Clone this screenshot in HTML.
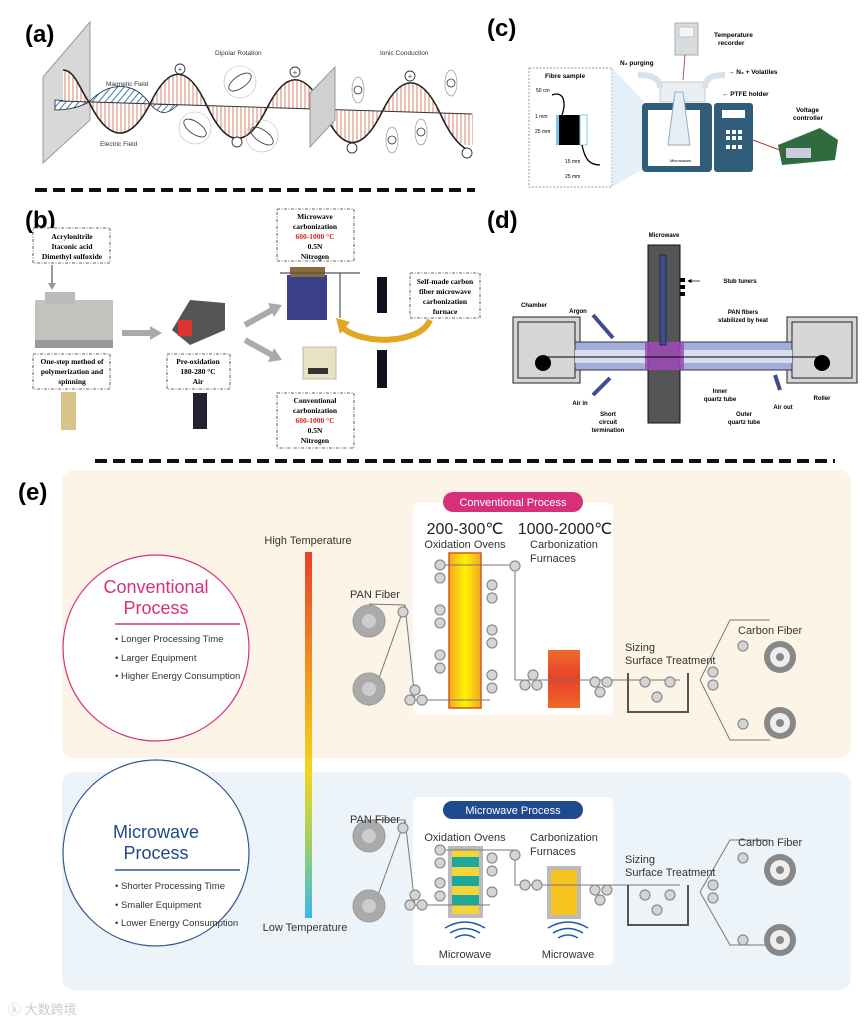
<!DOCTYPE html>
<html><head><meta charset="utf-8"><style>
html,body{margin:0;padding:0;background:#fff}
svg{display:block}
text{font-family:"Liberation Sans",sans-serif}
.s{font-family:"Liberation Serif",serif;font-weight:bold;font-size:7.5px;text-anchor:middle}
.lab{font-size:24px;font-weight:bold}
.ts{font-size:6.5px;font-weight:bold}
.e{font-size:11px;fill:#333}
.r{fill:#d4d4d4;stroke:#8c8c8c;stroke-width:1.2}
</style></head><body>
<svg width="865" height="1021" viewBox="0 0 865 1021" xmlns="http://www.w3.org/2000/svg">
<defs>
<clipPath id="ca"><rect x="0" y="0" width="473" height="188"/></clipPath>
<pattern id="hat" width="4" height="10" patternUnits="userSpaceOnUse"><rect width="4" height="10" fill="#fff"/><line x1="1" y1="0" x2="1" y2="10" stroke="#d06040" stroke-width="0.8"/></pattern>
<pattern id="bh" width="5" height="5" patternUnits="userSpaceOnUse" patternTransform="rotate(40)"><rect width="5" height="5" fill="#fff"/><line x1="1" y1="0" x2="1" y2="5" stroke="#3a7ab8" stroke-width="1"/></pattern>
<linearGradient id="tg" x1="0" y1="0" x2="0" y2="1"><stop offset="0" stop-color="#e8402a"/><stop offset="0.35" stop-color="#f39a1e"/><stop offset="0.6" stop-color="#f5d41e"/><stop offset="0.8" stop-color="#9ccf6a"/><stop offset="1" stop-color="#3ab8e8"/></linearGradient>
<linearGradient id="ov" x1="0" y1="0" x2="1" y2="0"><stop offset="0" stop-color="#f5a623"/><stop offset="0.5" stop-color="#fff200"/><stop offset="1" stop-color="#f5a623"/></linearGradient>
<linearGradient id="cf" x1="0" y1="0" x2="0" y2="1"><stop offset="0" stop-color="#ef6a2a"/><stop offset="0.5" stop-color="#e8402a"/><stop offset="1" stop-color="#ef6a2a"/></linearGradient>
<marker id="ar" markerWidth="6" markerHeight="6" refX="5" refY="3" orient="auto"><path d="M0,0 L6,3 L0,6z" fill="#000"/></marker>
</defs>

<!-- (a) -->
<g clip-path="url(#ca)">
<polygon points="43,77 90,22 90,120 43,163" fill="#d8d8d8" stroke="#999"/>
<path d="M89,102 C110,80 135,82 150,104 C162,118 170,112 178,105 L150,104 L89,102z" fill="url(#bh)" stroke="#222" stroke-width="0.8"/>
<path d="M55,100 L89,102 C78,108 65,110 55,110z" fill="url(#bh)" stroke="#222" stroke-width="0.8"/>
<path d="M63,101 L63,70 C75,70 80,90 89,102 c20,41 41,41 61,2 c19,-40 38,-40 57,2 c20,43 40,43 60,2 c19,-38 38,-38 58,2z" fill="url(#hat)"/>
<path d="M323,110 c19,43 39,43 59,2 c19,-39 39,-39 58,1 c19,43 39,43 58,1z" fill="url(#hat)"/>
<path d="M63,70 C75,70 80,90 89,102 c20,41 41,41 61,2 c19,-40 38,-40 57,2 c20,43 40,43 60,2 c19,-38 38,-38 58,2" fill="none" stroke="#222" stroke-width="1.6"/>
<path d="M323,110 c19,43 39,43 59,2 c19,-39 39,-39 58,1 c12,27 24,37 32,38" fill="none" stroke="#222" stroke-width="1.6"/>
<line x1="60" y1="101" x2="472" y2="114" stroke="#333" stroke-width="1"/>
<polygon points="310,93 335,67 335,120 310,147" fill="#d0d0d0" stroke="#999"/>
</g>
<text x="25" y="42" class="lab">(a)</text>
<text x="106" y="86" font-size="6.5" fill="#333">Magnetic Field</text>
<text x="100" y="146" font-size="6.5" fill="#333">Electric Field</text>
<text x="215" y="55" font-size="6.5" fill="#333">Dipolar Rotation</text>
<text x="380" y="55" font-size="6.5" fill="#333">Ionic Conduction</text>
<g fill="#fff" stroke="#333" stroke-width="0.9"><circle cx="180" cy="69" r="5"/><circle cx="295" cy="72" r="5"/><circle cx="410" cy="76" r="5"/><circle cx="237" cy="142" r="5"/><circle cx="352" cy="148" r="5"/><circle cx="467" cy="153" r="5"/></g>
<g font-size="8" text-anchor="middle" fill="#2a5aa0"><text x="180" y="72">+</text><text x="295" y="75">+</text><text x="410" y="79">+</text></g>
<g fill="none" stroke="#444" stroke-width="0.9"><ellipse cx="240" cy="82" rx="13" ry="6" transform="rotate(-35 240 82)"/><ellipse cx="195" cy="128" rx="13" ry="6" transform="rotate(35 195 128)"/><ellipse cx="262" cy="136" rx="13" ry="6" transform="rotate(35 262 136)"/></g>
<g fill="none" stroke="#bbb" stroke-width="0.6"><circle cx="240" cy="82" r="16"/><circle cx="195" cy="128" r="16"/><circle cx="262" cy="136" r="16"/></g>
<g fill="none" stroke="#999" stroke-width="0.7"><ellipse cx="358" cy="90" rx="6" ry="13"/><ellipse cx="451" cy="83" rx="6" ry="13"/><ellipse cx="392" cy="140" rx="6" ry="13"/><ellipse cx="421" cy="132" rx="6" ry="13"/></g>
<g fill="#fff" stroke="#333" stroke-width="0.8"><circle cx="358" cy="90" r="4"/><circle cx="451" cy="83" r="4"/><circle cx="392" cy="140" r="4"/><circle cx="421" cy="132" r="4"/></g>
<path d="M35,190 H475" stroke="#111" stroke-width="4" stroke-dasharray="12,6"/>

<!-- (c) -->
<text x="487" y="36" class="lab">(c)</text>
<rect x="529" y="68" width="83" height="119" fill="#fff" stroke="#999" stroke-dasharray="2,1.5"/>
<polygon points="612,68 650,108 650,165 612,187" fill="#d8e8f4" opacity="0.7"/>
<text x="545" y="78" class="ts" font-weight="bold">Fibre sample</text>
<rect x="558" y="115" width="22" height="30" fill="#000"/>
<rect x="556" y="115" width="3" height="30" fill="#7cc8ec"/><rect x="580" y="115" width="7" height="30" fill="none" stroke="#7cc8ec"/>
<path d="M552,95 C565,90 566,105 562,115 M582,145 C585,160 590,165 600,165" stroke="#000" fill="none" stroke-width="1.3"/>
<text x="536" y="92" font-size="5">50 cm</text><text x="535" y="118" font-size="5">1 mm</text><text x="535" y="133" font-size="5">25 mm</text><text x="565" y="163" font-size="5">15 mm</text><text x="565" y="178" font-size="5">25 mm</text>
<rect x="660" y="82" width="45" height="20" fill="#e8eef2" stroke="#ccc"/>
<path d="M638,75 C655,75 660,80 660,88 M705,88 C705,78 712,75 725,75" stroke="#d8e2e8" stroke-width="6" fill="none"/>
<rect x="642" y="103" width="70" height="69" rx="4" fill="#2f5d7a"/>
<rect x="648" y="110" width="52" height="56" fill="#fff"/>
<rect x="714" y="103" width="39" height="69" rx="3" fill="#2f5d7a"/>
<rect x="722" y="110" width="23" height="8" fill="#fff"/>
<g fill="#fff"><rect x="732" y="130" width="4" height="4"/><rect x="738" y="130" width="4" height="4"/><rect x="726" y="130" width="4" height="4"/><rect x="726" y="136" width="4" height="4"/><rect x="732" y="136" width="4" height="4"/><rect x="738" y="136" width="4" height="4"/><rect x="726" y="145" width="4" height="4"/><rect x="732" y="145" width="4" height="4"/><rect x="738" y="145" width="4" height="4"/></g>
<path d="M675,92 L668,145 L690,145 L683,92z" fill="#e4eef4" stroke="#9ab"/>
<text x="670" y="162" font-size="4">Microwaves</text>
<rect x="675" y="23" width="23" height="32" fill="#d9dcdf" stroke="#aaa"/><rect x="679" y="27" width="15" height="10" fill="#f2f4f5" stroke="#999" stroke-width="0.5"/>
<line x1="685" y1="55" x2="683" y2="80" stroke="#a33" stroke-width="0.8"/>
<text x="714" y="37" class="ts">Temperature</text><text x="718" y="45" class="ts">recorder</text>
<text x="620" y="65" class="ts">N₂ purging</text>
<text x="728" y="74" class="ts">→ N₂ + Volatiles</text>
<text x="722" y="96" class="ts">← PTFE holder</text>
<text x="796" y="112" class="ts">Voltage</text><text x="793" y="120" class="ts">controller</text>
<path d="M778,145 L820,128 L838,140 L835,160 L782,165z" fill="#2e6b3e"/><rect x="786" y="148" width="25" height="10" fill="#ccd"/>
<path d="M753,140 L785,152" stroke="#a33" stroke-width="1"/>

<!-- (b) -->
<text x="25" y="228" class="lab">(b)</text>
<g fill="#fff" stroke="#333" stroke-width="0.8" stroke-dasharray="3,1.5,1,1.5">
<rect x="33" y="228" width="77" height="35"/><rect x="33" y="354" width="77" height="35"/><rect x="167" y="354" width="63" height="35"/>
<rect x="277" y="209" width="77" height="52"/><rect x="277" y="393" width="77" height="55"/><rect x="410" y="273" width="70" height="45"/></g>
<text class="s" x="72" y="239">Acrylonitrile</text><text class="s" x="72" y="249">Itaconic acid</text><text class="s" x="72" y="259">Dimethyl sulfoxide</text>
<text class="s" x="72" y="364">One-step method of</text><text class="s" x="72" y="374">polymerization and</text><text class="s" x="72" y="384">spinning</text>
<text class="s" x="198" y="364">Pre-oxidation</text><text class="s" x="198" y="374">180-280 °C</text><text class="s" x="198" y="384">Air</text>
<text class="s" x="315" y="219">Microwave</text><text class="s" x="315" y="229">carbonization</text><text class="s" x="315" y="239" fill="#e0201c">600-1000 °C</text><text class="s" x="315" y="249">0.5N</text><text class="s" x="315" y="259">Nitrogen</text>
<text class="s" x="315" y="403">Conventional</text><text class="s" x="315" y="413">carbonization</text><text class="s" x="315" y="423" fill="#e0201c">600-1000 °C</text><text class="s" x="315" y="433">0.5N</text><text class="s" x="315" y="443">Nitrogen</text>
<text class="s" x="445" y="284">Self-made carbon</text><text class="s" x="445" y="294">fiber microwave</text><text class="s" x="445" y="304">carbonization</text><text class="s" x="445" y="314">furnace</text>
<path d="M52,265 V285" stroke="#999" stroke-width="2"/><path d="M48,283 L52,290 L56,283z" fill="#999"/>
<rect x="35" y="300" width="78" height="48" fill="#c4c2bd"/><rect x="45" y="292" width="30" height="12" fill="#bbb"/><rect x="35" y="340" width="78" height="8" fill="#999"/>
<rect x="61" y="392" width="15" height="38" fill="#d6c48a"/>
<path d="M122,333 H152" stroke="#aaa" stroke-width="6"/><path d="M150,326 L162,333 L150,340z" fill="#aaa"/>
<path d="M172,330 L190,300 L225,303 L225,330 L190,345z" fill="#555"/><rect x="178" y="320" width="14" height="16" fill="#d33"/>
<rect x="193" y="393" width="14" height="36" fill="#223"/>
<path d="M245,325 L272,310" stroke="#aaa" stroke-width="6"/><path d="M268,303 L282,305 L274,317z" fill="#aaa"/>
<path d="M245,340 L272,355" stroke="#aaa" stroke-width="6"/><path d="M274,348 L282,360 L268,362z" fill="#aaa"/>
<rect x="287" y="275" width="40" height="45" fill="#3a3f8a"/><rect x="290" y="267" width="35" height="10" fill="#8a6a3a"/><path d="M280,273 H360 M340,273 V318" stroke="#555" stroke-width="1.2"/>
<rect x="377" y="277" width="10" height="36" fill="#112"/><rect x="377" y="350" width="10" height="38" fill="#112"/>
<rect x="303" y="347" width="33" height="32" fill="#e8e2c4" stroke="#bba"/><rect x="308" y="368" width="20" height="6" fill="#333"/>
<path d="M430,320 C420,345 360,345 342,327" stroke="#e0a820" stroke-width="6" fill="none"/><path d="M336,318 L350,322 L340,334z" fill="#e0a820"/>

<!-- (d) -->
<text x="487" y="228" class="lab">(d)</text>
<rect x="513" y="317" width="67" height="66" fill="#d6d6d6" stroke="#222"/><rect x="518" y="322" width="57" height="56" fill="none" stroke="#222"/>
<rect x="787" y="317" width="70" height="66" fill="#d6d6d6" stroke="#222"/><rect x="792" y="322" width="60" height="56" fill="none" stroke="#222"/>
<rect x="575" y="342" width="217" height="28" fill="#a3aed8" stroke="#334"/>
<rect x="575" y="350" width="217" height="13" fill="#d8deef"/>
<rect x="648" y="245" width="32" height="178" fill="#555" stroke="#111"/>
<rect x="645" y="342" width="39" height="28" fill="#a04ab8" opacity="0.85"/>
<rect x="660" y="255" width="6" height="90" fill="#3f4d8f" stroke="#111" stroke-width="0.6"/>
<line x1="543" y1="357" x2="824" y2="357" stroke="#000" stroke-width="1"/>
<circle cx="543" cy="363" r="8"/><circle cx="822" cy="363" r="8"/>
<rect x="680" y="278" width="5" height="4"/><rect x="680" y="285" width="5" height="4"/><rect x="680" y="292" width="5" height="4"/>
<path d="M593,315 L613,338" stroke="#3f4d8f" stroke-width="4"/><path d="M593,395 L610,378" stroke="#3f4d8f" stroke-width="4"/><path d="M775,375 L780,390" stroke="#3f4d8f" stroke-width="4"/>
<g font-size="6" font-weight="bold" text-anchor="middle">
<text x="664" y="237">Microwave</text><text x="740" y="283">Stub tuners</text><text x="534" y="307">Chamber</text><text x="578" y="313">Argon</text>
<text x="743" y="314">PAN fibers</text><text x="743" y="322">stabilized by heat</text>
<text x="580" y="405">Air in</text><text x="720" y="393">Inner</text><text x="720" y="401">quartz tube</text>
<text x="608" y="416">Short</text><text x="608" y="424">circuit</text><text x="608" y="432">termination</text>
<text x="744" y="416">Outer</text><text x="744" y="424">quartz tube</text><text x="783" y="409">Air out</text><text x="822" y="400">Roller</text></g>
<path d="M700,281 H688" stroke="#000" stroke-width="0.7" marker-end="url(#ar)"/>

<path d="M95,461 H835" stroke="#111" stroke-width="4" stroke-dasharray="12,6"/>

<!-- (e) -->
<rect x="62" y="470" width="789" height="288" rx="12" fill="#fdf4e8"/>
<rect x="62" y="772" width="789" height="218" rx="12" fill="#edf4f9"/>
<text x="18" y="500" class="lab">(e)</text>
<rect x="305" y="552" width="7" height="366" fill="url(#tg)"/>
<text x="308" y="544" class="e" text-anchor="middle">High Temperature</text>
<text x="305" y="931" class="e" text-anchor="middle">Low Temperature</text>
<circle cx="156" cy="648" r="93" fill="#fff" stroke="#d6307a" stroke-width="1.2"/>
<text x="156" y="593" font-size="18" fill="#d6307a" text-anchor="middle">Conventional</text>
<text x="156" y="614" font-size="18" fill="#d6307a" text-anchor="middle">Process</text>
<line x1="115" y1="624" x2="240" y2="624" stroke="#d6307a" stroke-width="1.5"/>
<text x="115" y="642" font-size="9.5" fill="#333">• Longer Processing Time</text><text x="115" y="661" font-size="9.5" fill="#333">• Larger Equipment</text><text x="115" y="679" font-size="9.5" fill="#333">• Higher Energy Consumption</text>
<circle cx="156" cy="853" r="93" fill="#fff" stroke="#2f5a90" stroke-width="1.2"/>
<text x="156" y="838" font-size="18" fill="#1f4a84" text-anchor="middle">Microwave</text>
<text x="156" y="859" font-size="18" fill="#1f4a84" text-anchor="middle">Process</text>
<line x1="115" y1="870" x2="240" y2="870" stroke="#2f5a90" stroke-width="1.5"/>
<text x="115" y="889" font-size="9.5" fill="#333">• Shorter Processing Time</text><text x="115" y="908" font-size="9.5" fill="#333">• Smaller Equipment</text><text x="115" y="926" font-size="9.5" fill="#333">• Lower Energy Consumption</text>

<rect x="413" y="503" width="200" height="212" rx="6" fill="#fff"/>
<rect x="443" y="492" width="140" height="20" rx="10" fill="#d6307a"/><text x="513" y="506" font-size="11" fill="#fff" text-anchor="middle">Conventional Process</text>
<text x="465" y="534" font-size="16" text-anchor="middle" fill="#222">200-300℃</text><text x="565" y="534" font-size="16" text-anchor="middle" fill="#222">1000-2000℃</text>
<text x="465" y="548" class="e" text-anchor="middle">Oxidation Ovens</text><text x="530" y="548" class="e">Carbonization</text><text x="530" y="562" class="e">Furnaces</text>
<rect x="449" y="553" width="32" height="155" fill="url(#ov)" stroke="#d65a1a" stroke-width="1.5"/>
<rect x="548" y="650" width="32" height="58" fill="url(#cf)"/>
<g fill="none" stroke="#777" stroke-width="1"><path d="M369,604 L405,605 L415,700 L490,700 M440,565 H515 V680 H680 M369,706 L405,605"/><path d="M628,673 V712 H688 V673" stroke-width="2" stroke="#555"/><path d="M700,680 L730,620 H770 M700,680 L730,740 H770"/></g>
<g fill="#aaa" stroke="#999"><circle cx="369" cy="621" r="16"/><circle cx="369" cy="689" r="16"/></g><g fill="#ccc"><circle cx="369" cy="621" r="7"/><circle cx="369" cy="689" r="7"/></g>
<g fill="#888"><circle cx="780" cy="657" r="16"/><circle cx="780" cy="723" r="16"/></g><g fill="#eee"><circle cx="780" cy="657" r="10"/><circle cx="780" cy="723" r="10"/></g><g fill="#888"><circle cx="780" cy="657" r="4"/><circle cx="780" cy="723" r="4"/></g>
<g class="r"><circle cx="403" cy="612" r="5"/><circle cx="440" cy="565" r="5"/><circle cx="440" cy="578" r="5"/><circle cx="492" cy="585" r="5"/><circle cx="492" cy="598" r="5"/><circle cx="440" cy="610" r="5"/><circle cx="440" cy="623" r="5"/><circle cx="492" cy="630" r="5"/><circle cx="492" cy="643" r="5"/><circle cx="440" cy="655" r="5"/><circle cx="440" cy="668" r="5"/><circle cx="492" cy="675" r="5"/><circle cx="492" cy="688" r="5"/><circle cx="415" cy="690" r="5"/><circle cx="410" cy="700" r="5"/><circle cx="422" cy="700" r="5"/><circle cx="515" cy="566" r="5"/><circle cx="533" cy="675" r="5"/><circle cx="525" cy="685" r="5"/><circle cx="537" cy="685" r="5"/><circle cx="595" cy="682" r="5"/><circle cx="607" cy="682" r="5"/><circle cx="600" cy="692" r="5"/><circle cx="645" cy="682" r="5"/><circle cx="670" cy="682" r="5"/><circle cx="657" cy="697" r="5"/><circle cx="713" cy="672" r="5"/><circle cx="713" cy="685" r="5"/><circle cx="743" cy="646" r="5"/><circle cx="743" cy="724" r="5"/></g>
<text x="350" y="598" class="e">PAN Fiber</text><text x="625" y="651" class="e">Sizing</text><text x="625" y="664" class="e">Surface Treatment</text><text x="738" y="634" class="e">Carbon Fiber</text>

<rect x="413" y="797" width="200" height="168" rx="6" fill="#fff"/>
<rect x="443" y="801" width="140" height="18" rx="9" fill="#1f4a8e"/><text x="513" y="814" font-size="11" fill="#fff" text-anchor="middle">Microwave Process</text>
<text x="465" y="841" class="e" text-anchor="middle">Oxidation Ovens</text><text x="530" y="841" class="e">Carbonization</text><text x="530" y="855" class="e">Furnaces</text>
<rect x="448" y="846" width="35" height="72" fill="#bbb"/>
<rect x="452" y="850" width="27" height="64" fill="#f3d43a"/>
<rect x="452" y="857" width="27" height="10" fill="#1ea89a"/><rect x="452" y="876" width="27" height="10" fill="#1ea89a"/><rect x="452" y="895" width="27" height="10" fill="#1ea89a"/>
<rect x="547" y="866" width="34" height="53" fill="#bbb"/><rect x="551" y="870" width="26" height="45" fill="#f5c21e"/>
<g fill="none" stroke="#777" stroke-width="1"><path d="M369,820 L405,820 L415,905 L490,905 M440,850 H515 V885 H680 M369,920 L405,820"/><path d="M628,885 V925 H688 V885" stroke-width="2" stroke="#555"/><path d="M700,892 L730,840 H770 M700,892 L730,945 H770"/></g>
<g fill="none" stroke="#1f5aa8" stroke-width="1.5"><path d="M455,938 Q465,932 475,938 M450,933 Q465,924 480,933 M445,928 Q465,916 485,928"/><path d="M558,938 Q568,932 578,938 M553,933 Q568,924 583,933 M548,928 Q568,916 588,928"/></g>
<text x="465" y="958" class="e" text-anchor="middle">Microwave</text><text x="568" y="958" class="e" text-anchor="middle">Microwave</text>
<g fill="#aaa" stroke="#999"><circle cx="369" cy="836" r="16"/><circle cx="369" cy="906" r="16"/></g><g fill="#ccc"><circle cx="369" cy="836" r="7"/><circle cx="369" cy="906" r="7"/></g>
<g fill="#888"><circle cx="780" cy="870" r="16"/><circle cx="780" cy="940" r="16"/></g><g fill="#eee"><circle cx="780" cy="870" r="10"/><circle cx="780" cy="940" r="10"/></g><g fill="#888"><circle cx="780" cy="870" r="4"/><circle cx="780" cy="940" r="4"/></g>
<g class="r"><circle cx="403" cy="828" r="5"/><circle cx="440" cy="850" r="5"/><circle cx="440" cy="863" r="5"/><circle cx="492" cy="858" r="5"/><circle cx="492" cy="871" r="5"/><circle cx="440" cy="883" r="5"/><circle cx="440" cy="896" r="5"/><circle cx="492" cy="892" r="5"/><circle cx="415" cy="895" r="5"/><circle cx="410" cy="905" r="5"/><circle cx="422" cy="905" r="5"/><circle cx="515" cy="855" r="5"/><circle cx="525" cy="885" r="5"/><circle cx="537" cy="885" r="5"/><circle cx="595" cy="890" r="5"/><circle cx="607" cy="890" r="5"/><circle cx="600" cy="900" r="5"/><circle cx="645" cy="895" r="5"/><circle cx="670" cy="895" r="5"/><circle cx="657" cy="910" r="5"/><circle cx="713" cy="885" r="5"/><circle cx="713" cy="898" r="5"/><circle cx="743" cy="858" r="5"/><circle cx="743" cy="940" r="5"/></g>
<text x="350" y="823" class="e">PAN Fiber</text><text x="625" y="863" class="e">Sizing</text><text x="625" y="876" class="e">Surface Treatment</text><text x="738" y="846" class="e">Carbon Fiber</text>

<text x="8" y="1014" font-size="13" fill="#ccc" font-family="'Liberation Sans','Noto Sans CJK SC',sans-serif">ⓚ 大数跨境</text>
</svg>
</body></html>
